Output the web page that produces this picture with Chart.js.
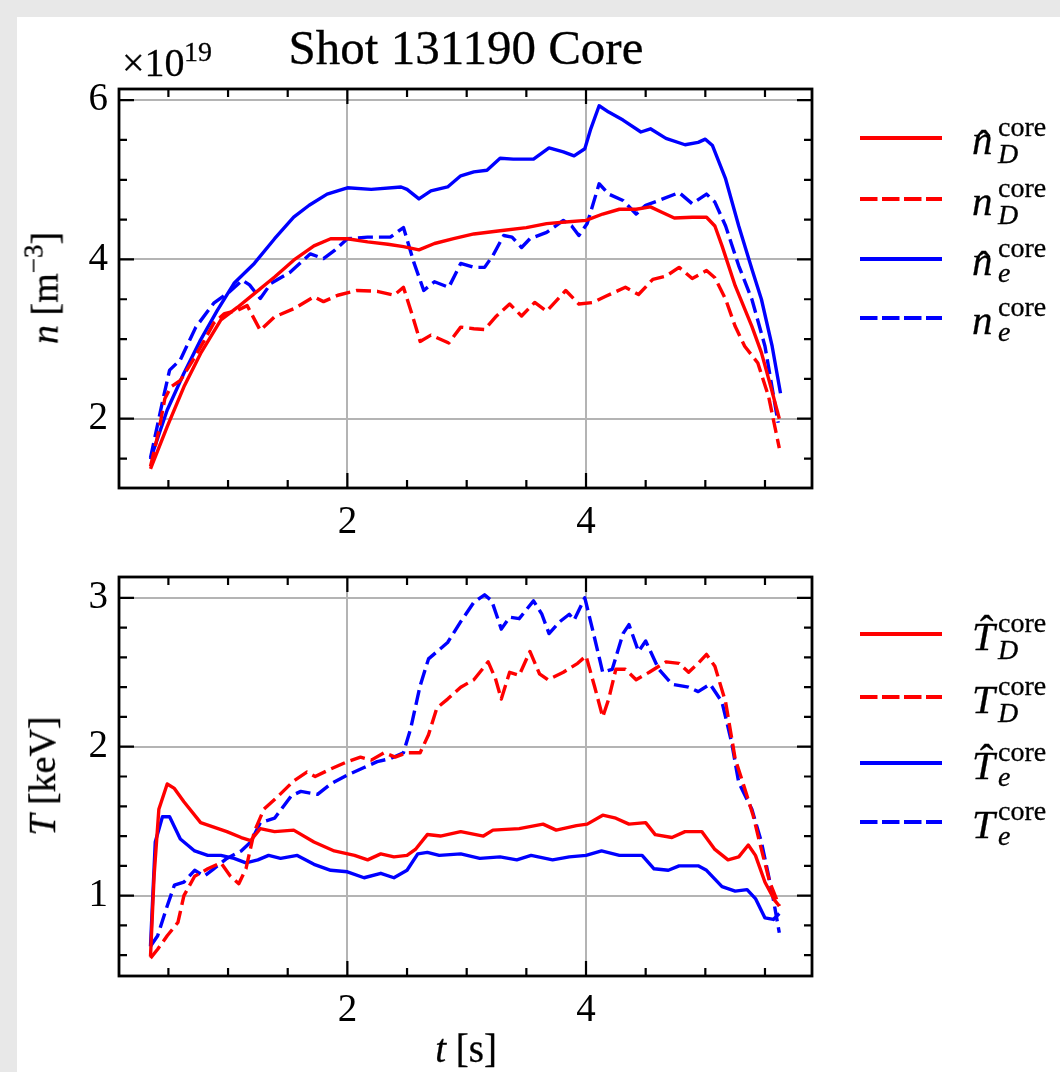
<!DOCTYPE html>
<html><head><meta charset="utf-8">
<script src="https://cdn.jsdelivr.net/npm/chart.js@4.4.1/dist/chart.umd.min.js"></script>
<style>
html,body{margin:0;padding:0;}
body{width:1060px;height:1072px;background:#e8e8e8;position:relative;overflow:hidden;font-family:"Liberation Serif","Times New Roman",serif;color:#000;}
#panel{position:absolute;left:17px;top:17px;right:0;bottom:0;background:#fff;}
canvas{position:absolute;left:0;}
.t{position:absolute;white-space:nowrap;line-height:1;-webkit-text-stroke:0.3px #000;}
.rot{position:absolute;white-space:nowrap;line-height:1;font-size:38px;transform:translate(-50%,-50%) rotate(-90deg);-webkit-text-stroke:0.3px #000;}
</style></head>
<body>
<div id="panel"></div>
<canvas id="c1" width="1060" height="560" style="top:0;width:1060px;height:560px"></canvas>
<canvas id="c2" width="1060" height="552" style="top:520px;width:1060px;height:552px"></canvas>
<div id="txt"></div>
<script>
// ---------------- DATA ----------------
// top panel: density (x10^19 m^-3)
const nDhatT = [0.35,0.49,0.63,0.77,0.94,1.08,1.22,1.39,1.55,1.72,1.86,2.0,2.17,2.34,2.47,2.60,2.73,2.89,3.06,3.28,3.5,3.67,3.83,4.0,4.14,4.28,4.42,4.54,4.64,4.74,4.89,5.01,5.08,5.14,5.25,5.39,5.47,5.54,5.62];
const nDhatV = [1.37,1.90,2.40,2.82,3.24,3.40,3.57,3.78,3.99,4.17,4.26,4.26,4.22,4.19,4.16,4.12,4.20,4.26,4.32,4.36,4.40,4.45,4.47,4.49,4.57,4.63,4.63,4.66,4.59,4.52,4.53,4.53,4.42,4.17,3.67,3.16,2.83,2.45,2.0];
const nDT = [0.35,0.42,0.47,0.52,0.60,0.70,0.80,0.88,0.97,1.08,1.16,1.27,1.39,1.55,1.72,1.80,1.92,2.08,2.25,2.39,2.47,2.54,2.61,2.70,2.85,2.95,3.06,3.15,3.25,3.36,3.46,3.57,3.67,3.83,3.94,4.06,4.17,4.33,4.44,4.56,4.67,4.78,4.89,5.01,5.08,5.17,5.25,5.33,5.44,5.53,5.62];
const nDV = [1.40,1.85,2.25,2.40,2.48,2.72,2.98,3.20,3.32,3.36,3.42,3.11,3.28,3.38,3.53,3.47,3.55,3.61,3.60,3.55,3.65,3.32,2.97,3.05,2.95,3.15,3.13,3.12,3.29,3.44,3.29,3.46,3.35,3.61,3.44,3.46,3.54,3.65,3.56,3.75,3.79,3.90,3.76,3.86,3.77,3.50,3.16,2.91,2.70,2.28,1.63];
const neHatT = [0.35,0.49,0.63,0.77,0.91,1.05,1.22,1.39,1.55,1.68,1.83,2.0,2.2,2.45,2.5,2.60,2.70,2.84,2.95,3.06,3.17,3.28,3.39,3.56,3.69,3.81,3.90,3.99,4.04,4.11,4.19,4.31,4.46,4.54,4.67,4.83,4.94,5.0,5.06,5.17,5.28,5.39,5.47,5.56,5.63];
const neHatV = [1.49,2.11,2.57,2.99,3.36,3.70,3.95,4.26,4.53,4.68,4.82,4.90,4.88,4.91,4.88,4.76,4.86,4.91,5.05,5.10,5.12,5.27,5.26,5.26,5.40,5.35,5.30,5.39,5.64,5.93,5.85,5.75,5.60,5.64,5.52,5.44,5.47,5.51,5.43,5.01,4.42,3.88,3.50,2.91,2.32];
const neT = [0.35,0.46,0.51,0.60,0.73,0.88,1.01,1.12,1.18,1.27,1.36,1.52,1.69,1.80,1.89,2.0,2.17,2.36,2.47,2.56,2.64,2.73,2.85,2.95,3.06,3.15,3.22,3.31,3.38,3.46,3.53,3.67,3.81,3.88,3.94,4.01,4.11,4.19,4.31,4.42,4.50,4.61,4.78,4.89,5.01,5.08,5.17,5.28,5.39,5.50,5.61];
const neV = [1.51,2.28,2.61,2.74,3.15,3.45,3.59,3.74,3.68,3.51,3.70,3.84,4.07,4.01,4.11,4.26,4.28,4.28,4.40,3.95,3.61,3.72,3.65,3.95,3.90,3.90,4.05,4.30,4.28,4.15,4.26,4.34,4.49,4.42,4.30,4.45,4.95,4.82,4.74,4.57,4.68,4.74,4.84,4.70,4.82,4.72,4.42,3.92,3.50,2.91,1.95];
// bottom panel: temperature (keV)
const TDhatT = [0.35,0.38,0.42,0.49,0.55,0.63,0.77,0.88,0.99,1.11,1.19,1.27,1.39,1.55,1.72,1.89,2.06,2.17,2.28,2.39,2.50,2.57,2.67,2.78,2.95,3.14,3.22,3.44,3.64,3.75,3.92,4.01,4.14,4.25,4.36,4.50,4.58,4.72,4.83,4.97,5.08,5.19,5.28,5.36,5.42,5.50,5.58,5.62];
const TDhatV = [0.59,1.13,1.58,1.75,1.72,1.63,1.49,1.46,1.43,1.39,1.37,1.45,1.43,1.44,1.36,1.30,1.27,1.24,1.28,1.26,1.27,1.31,1.41,1.40,1.43,1.40,1.44,1.45,1.48,1.44,1.47,1.48,1.54,1.52,1.48,1.49,1.41,1.39,1.43,1.43,1.31,1.24,1.26,1.34,1.27,1.09,0.97,0.93];
const TDT = [0.35,0.41,0.49,0.58,0.63,0.72,0.83,0.94,1.02,1.09,1.15,1.22,1.30,1.41,1.55,1.66,1.73,1.86,2.0,2.11,2.20,2.31,2.40,2.50,2.61,2.68,2.75,2.84,2.95,3.06,3.18,3.24,3.29,3.36,3.44,3.53,3.61,3.68,3.81,3.93,4.0,4.07,4.14,4.19,4.25,4.33,4.42,4.53,4.67,4.78,4.86,4.94,5.01,5.08,5.17,5.25,5.33,5.40,5.47,5.54,5.62];
const TDV = [0.58,0.64,0.73,0.82,1.0,1.13,1.18,1.22,1.13,1.08,1.18,1.43,1.58,1.66,1.77,1.83,1.80,1.85,1.90,1.93,1.91,1.96,1.93,1.96,1.96,2.08,2.26,2.32,2.40,2.45,2.57,2.46,2.32,2.50,2.48,2.64,2.49,2.45,2.50,2.56,2.61,2.41,2.20,2.32,2.52,2.52,2.45,2.50,2.57,2.56,2.50,2.56,2.62,2.54,2.30,1.92,1.72,1.54,1.31,1.09,0.93];
const TeHatT = [0.35,0.39,0.45,0.51,0.60,0.72,0.83,0.94,1.05,1.15,1.25,1.34,1.44,1.58,1.72,1.86,2.0,2.14,2.28,2.39,2.50,2.59,2.67,2.77,2.95,3.11,3.28,3.42,3.54,3.72,3.86,4.0,4.13,4.28,4.47,4.57,4.69,4.78,4.94,5.01,5.14,5.25,5.35,5.42,5.50,5.57,5.62];
const TeHatV = [0.66,1.36,1.53,1.53,1.38,1.30,1.27,1.27,1.25,1.22,1.24,1.27,1.25,1.27,1.21,1.17,1.16,1.12,1.15,1.12,1.17,1.28,1.29,1.27,1.28,1.25,1.26,1.24,1.27,1.24,1.26,1.27,1.30,1.27,1.27,1.18,1.17,1.20,1.20,1.17,1.06,1.03,1.04,0.98,0.85,0.84,0.88];
const TeT = [0.35,0.41,0.49,0.55,0.63,0.72,0.80,0.88,0.99,1.11,1.19,1.27,1.39,1.53,1.61,1.75,1.86,2.0,2.14,2.25,2.36,2.47,2.53,2.61,2.68,2.84,2.95,3.06,3.15,3.21,3.29,3.36,3.44,3.56,3.63,3.69,3.78,3.86,3.90,3.99,4.06,4.14,4.22,4.31,4.36,4.44,4.50,4.61,4.72,4.86,4.94,5.04,5.14,5.22,5.28,5.39,5.47,5.56,5.62];
const TeV = [0.66,0.73,0.93,1.07,1.09,1.17,1.13,1.18,1.25,1.30,1.36,1.49,1.52,1.67,1.70,1.68,1.75,1.81,1.86,1.90,1.92,1.96,2.12,2.41,2.59,2.70,2.84,2.97,3.02,2.98,2.79,2.87,2.86,2.98,2.89,2.76,2.84,2.89,2.85,3.0,2.77,2.50,2.52,2.76,2.82,2.64,2.71,2.52,2.42,2.40,2.37,2.42,2.30,2.03,1.76,1.58,1.36,1.02,0.75];

// ticks
const xMajor = [2, 4];
const xMinor = [0.5, 1, 1.5, 2.5, 3, 3.5, 4.5, 5, 5.5];
const nMajor = [2, 4, 6];
const nMinor = [1.5, 2.5, 3, 3.5, 4.5, 5, 5.5];
const TMajor = [1, 2, 3];
const TMinor = [0.6, 0.8, 1.2, 1.4, 1.6, 1.8, 2.2, 2.4, 2.6, 2.8];

// ---------------- CHARTS ----------------
const FONT = '"Liberation Serif","Times New Roman",serif';
const RED = '#ff0000', BLUE = '#0000ff';
const DASH = [15, 6];
const pts = (t, v) => t.map((x, i) => ({x, y: v[i]}));

const framePlugin = {
  id: 'frame',
  afterDatasetsDraw(chart, args, o) {
    const {ctx, chartArea: a} = chart;
    const xs = chart.scales.x, ys = chart.scales.y;
    ctx.save();
    ctx.strokeStyle = '#000';
    ctx.lineWidth = 2.2;
    ctx.beginPath();
    const xt = (vals, len) => vals.forEach(v => {
      const p = xs.getPixelForValue(v);
      ctx.moveTo(p, a.bottom); ctx.lineTo(p, a.bottom - len);
      ctx.moveTo(p, a.top); ctx.lineTo(p, a.top + len);
    });
    const yt = (vals, len) => vals.forEach(v => {
      const p = ys.getPixelForValue(v);
      ctx.moveTo(a.left, p); ctx.lineTo(a.left + len, p);
      ctx.moveTo(a.right, p); ctx.lineTo(a.right - len, p);
    });
    xt(o.xMajor, 15); xt(o.xMinor, 8);
    yt(o.yMajor, 15); yt(o.yMinor, 8);
    ctx.stroke();
    ctx.lineWidth = 2.8;
    ctx.strokeRect(a.left, a.top, a.right - a.left, a.bottom - a.top);
    ctx.restore();
  }
};

function makeChart(id, datasets, c) {
  return new Chart(document.getElementById(id), {
    type: 'line',
    data: { datasets },
    options: {
      responsive: false, animation: false, devicePixelRatio: 1,
      layout: { padding: { left: 0, top: c.padTop, right: 248, bottom: 0 } },
      elements: { point: { radius: 0, hoverRadius: 0 }, line: { tension: 0, borderWidth: 3.4, borderCapStyle: 'butt', borderJoinStyle: 'round' } },
      plugins: {
        legend: { display: false }, tooltip: { enabled: false },
        frame: { xMajor, xMinor, yMajor: c.yMajor, yMinor: c.yMinor }
      },
      scales: {
        x: {
          type: 'linear', min: 0.086, max: 5.894,
          afterBuildTicks: s => { s.ticks = xMajor.map(v => ({value: v})); },
          afterFit: s => { s.height = c.xh; },
          ticks: { font: { family: FONT, size: 39 }, color: '#000', padding: 11, maxRotation: 0, autoSkip: false, callback: v => String(v) },
          grid: { color: '#b4b4b4', lineWidth: 2, drawTicks: false },
          border: { display: false }
        },
        y: {
          type: 'linear', min: c.ymin, max: c.ymax,
          afterBuildTicks: s => { s.ticks = c.yMajor.map(v => ({value: v})); },
          afterFit: s => { s.width = 119; },
          ticks: { font: { family: FONT, size: 39 }, color: '#000', padding: 11, autoSkip: false, callback: v => String(v) },
          grid: { color: '#b4b4b4', lineWidth: 2, drawTicks: false },
          border: { display: false }
        }
      }
    },
    plugins: [framePlugin]
  });
}

makeChart('c1', [
  { data: pts(nDhatT, nDhatV), borderColor: RED },
  { data: pts(nDT, nDV), borderColor: RED, borderDash: DASH },
  { data: pts(neHatT, neHatV), borderColor: BLUE },
  { data: pts(neT, neV), borderColor: BLUE, borderDash: DASH }
], { padTop: 89, xh: 72, ymin: 1.13, ymax: 6.14, yMajor: nMajor, yMinor: nMinor });

makeChart('c2', [
  { data: pts(TDhatT, TDhatV), borderColor: RED },
  { data: pts(TDT, TDV), borderColor: RED, borderDash: DASH },
  { data: pts(TeHatT, TeHatV), borderColor: BLUE },
  { data: pts(TeT, TeV), borderColor: BLUE, borderDash: DASH }
], { padTop: 57, xh: 96, ymin: 0.46, ymax: 3.14, yMajor: TMajor, yMinor: TMinor });

// ---------------- TEXT ----------------
const box = document.getElementById('txt');
function put(html, x, base, fs, extra) {
  const d = document.createElement('div');
  d.className = 't';
  d.style.left = x + 'px';
  d.style.top = (base - 0.8375 * fs) + 'px';
  d.style.fontSize = fs + 'px';
  if (extra) d.style.cssText += extra;
  d.innerHTML = html;
  box.appendChild(d);
  return d;
}
// title
const title = put('Shot 131190 Core', 0, 64, 49);
title.style.left = '466px'; title.style.transform = 'translateX(-50%)';
// multiplier
put('×10', 122, 76, 40);
put('19', 184, 61, 28);
// axis labels
function rot(html, cx, cy) {
  const d = document.createElement('div');
  d.className = 'rot';
  d.style.left = cx + 'px'; d.style.top = cy + 'px';
  d.innerHTML = html;
  box.appendChild(d);
}
rot('<i>n</i>&nbsp;[m<span style="font-size:27px;vertical-align:15px">−3</span>]', 42, 288);
rot('<i>T</i>&nbsp;[keV]', 42, 776);
const xl = put('<i>t</i>&nbsp;[s]', 466, 1062, 39);
xl.style.transform = 'translateX(-50%)';

// legends
const legendTop = [
  { main: 'n', sub: 'D', color: RED, dash: false },
  { main: 'n', sub: 'D', color: RED, dash: true, nohat: true },
  { main: 'n', sub: 'e', color: BLUE, dash: false },
  { main: 'n', sub: 'e', color: BLUE, dash: true, nohat: true }
];
const legendBot = [
  { main: 'T', sub: 'D', color: RED, dash: false },
  { main: 'T', sub: 'D', color: RED, dash: true, nohat: true },
  { main: 'T', sub: 'e', color: BLUE, dash: false },
  { main: 'T', sub: 'e', color: BLUE, dash: true, nohat: true }
];
const legYTop = [138, 199, 259, 318];
const legYBot = [634, 697, 763, 822];
function legend(items, ys) {
  items.forEach((it, i) => {
    const y0 = ys[i];
    const s = document.createElementNS('http://www.w3.org/2000/svg', 'svg');
    s.setAttribute('width', '84'); s.setAttribute('height', '8');
    s.style.cssText = `position:absolute;left:859px;top:${y0 - 4}px`;
    s.innerHTML = `<line x1="1" y1="4" x2="83" y2="4" stroke="${it.color}" stroke-width="3.8" ${it.dash ? 'stroke-dasharray="17.5 4.5"' : ''}/>`;
    box.appendChild(s);
    put(`<i>${it.main}</i>`, 972, y0 + 16, 41);
    if (!it.nohat) {
      if (it.main === 'T') put('ˆ', 980, y0 + 9, 40);
      else put('ˆ', 977, y0 + 20, 40);
    }
    put('core', 998, y0 - 2, 28);
    put(`<i>${it.sub}</i>`, 998, y0 + (it.sub === 'e' ? 23 : 25), 28);
  });
}
legend(legendTop, legYTop);
legend(legendBot, legYBot);
</script>
</body></html>
